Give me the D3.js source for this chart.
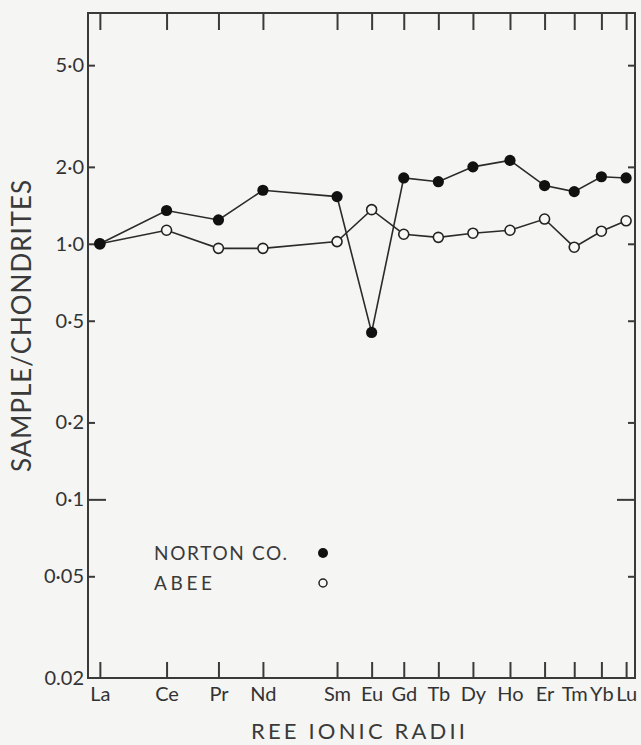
<!DOCTYPE html>
<html>
<head>
<meta charset="utf-8">
<script src="https://cdnjs.cloudflare.com/ajax/libs/d3/7.8.5/d3.min.js"></script>
<style>
  body{margin:0;background:#f5f5f3;}
  svg{display:block;}
  text{font-family:Lato,"Open Sans",sans-serif;fill:#3a3a3a;}
</style>
</head>
<body>
<svg id="grafica" width="641" height="745"></svg>
<script>

// REE, ionic radius (x) and sample/chondrite ratio for each meteorite
var elementos = ["La","Ce","Pr","Nd","Sm","Eu","Gd","Tb","Dy","Ho","Er","Tm","Yb","Lu"];
var radios = [1.061,1.034,1.013,0.995,0.965,0.951,0.938,0.924,0.910,0.895,0.881,0.869,0.858,0.848];

var norton = [1.00,1.35,1.24,1.62,1.53,0.45,1.81,1.75,2.00,2.12,1.69,1.60,1.83,1.81];
var abee   = [1.00,1.13,0.96,0.96,1.02,1.36,1.09,1.06,1.10,1.13,1.25,0.97,1.12,1.23];

var valoresY = [5,2,1,0.5,0.2,0.1,0.05,0.02];
var etiquetasY = ["5·0","2·0","1·0","0·5","0·2","0·1","0·05","0.02"];

var series = ["NORTON CO.","ABEE"];

var tituloX = "REE IONIC RADII";
var tituloY = "SAMPLE/CHONDRITES";


var izq = 88, der = 635, arriba = 13, abajo = 678;
var trazo = "#3a3a3a";

var svg = d3.select("#grafica");

var x = d3.scaleLinear().domain([1.0658, 0.8444]).range([izq, der]);
var y = d3.scaleLog().domain([0.02, 8]).range([abajo, arriba]);


// marco
svg.append("rect")
	.attr("x", izq).attr("y", arriba)
	.attr("width", der - izq).attr("height", abajo - arriba)
	.style("fill", "none")
	.style("stroke", trazo)
	.style("stroke-width", 2);


function Estiliza(g){
	g.select(".domain").remove();
	g.selectAll(".tick line").style("stroke", trazo).style("stroke-width", 2);
	g.selectAll(".tick text").style("font-size", "20px").style("fill", "#333");
}

// eje izquierdo
var ejeIzq = svg.append("g")
	.attr("transform", "translate(" + izq + ",0)")
	.call(d3.axisLeft(y).tickValues(valoresY)
		.tickFormat(function(d, i){ return etiquetasY[i]; })
		.tickSizeInner(-7).tickSizeOuter(0).tickPadding(4))
	.call(Estiliza);

ejeIzq.selectAll(".tick line").filter(function(d){ return d === 0.1; }).attr("x2", 18);
ejeIzq.selectAll(".tick line").filter(function(d){ return d === 0.02; }).remove();

// eje derecho
var ejeDer = svg.append("g")
	.attr("transform", "translate(" + der + ",0)")
	.call(d3.axisRight(y).tickValues(valoresY.slice(0, 7))
		.tickFormat("").tickSizeInner(-7).tickSizeOuter(0))
	.call(Estiliza);

ejeDer.selectAll(".tick line").filter(function(d){ return d === 0.1; }).attr("x2", -18);

// eje inferior
svg.append("g")
	.attr("transform", "translate(0," + abajo + ")")
	.call(d3.axisBottom(x).tickValues(radios)
		.tickFormat(function(d, i){ return elementos[i]; })
		.tickSizeInner(-16).tickSizeOuter(0).tickPadding(9))
	.call(Estiliza);

// eje superior
svg.append("g")
	.attr("transform", "translate(0," + arriba + ")")
	.call(d3.axisTop(x).tickValues(radios)
		.tickFormat("").tickSizeInner(-17).tickSizeOuter(0))
	.call(Estiliza);

svg.selectAll(".tick text").attr("font-family", null);


// titulos
svg.append("text")
	.attr("x", 358).attr("y", 739)
	.attr("text-anchor", "middle")
	.attr("textLength", 214)
	.style("font-size", "22px")
	.text(tituloX);

svg.append("text")
	.attr("transform", "translate(31,326) rotate(-90)")
	.attr("text-anchor", "middle")
	.attr("textLength", 292)
	.style("font-size", "26px")
	.text(tituloY);


// lineas
var linea = d3.line()
	.x(function(d, i){ return x(radios[i]); })
	.y(function(d){ return y(d); });

[norton, abee].forEach(function(serie){
	svg.append("path")
		.datum(serie)
		.attr("d", linea)
		.style("fill", "none")
		.style("stroke", "#2a2a2a")
		.style("stroke-width", 1.6);
});

// puntos
svg.selectAll(".abee").data(abee).enter().append("circle")
	.attr("class", "abee")
	.attr("cx", function(d, i){ return x(radios[i]); })
	.attr("cy", function(d){ return y(d); })
	.attr("r", 5)
	.style("fill", "#f7f7f5")
	.style("stroke", "#222")
	.style("stroke-width", 1.6);

svg.selectAll(".norton").data(norton).enter().append("circle")
	.attr("class", "norton")
	.attr("cx", function(d, i){ return x(radios[i]); })
	.attr("cy", function(d){ return y(d); })
	.attr("r", 5.6)
	.style("fill", "#111");


// leyenda
var leyenda = svg.selectAll(".leyenda").data(series).enter().append("g")
	.attr("class", "leyenda")
	.attr("transform", function(d, i){ return "translate(154," + (553 + i * 30) + ")"; });

leyenda.append("text")
	.attr("y", 7)
	.attr("textLength", function(d, i){ return i === 0 ? 133 : 58; })
	.style("font-size", "19px")
	.text(function(d){ return d; });

leyenda.append("circle")
	.attr("cx", 169)
	.attr("r", function(d, i){ return i === 0 ? 5 : 4; })
	.style("fill", function(d, i){ return i === 0 ? "#111" : "#f7f7f5"; })
	.style("stroke", "#222")
	.style("stroke-width", function(d, i){ return i === 0 ? 0 : 1.5; });

</script>
</body>
</html>
